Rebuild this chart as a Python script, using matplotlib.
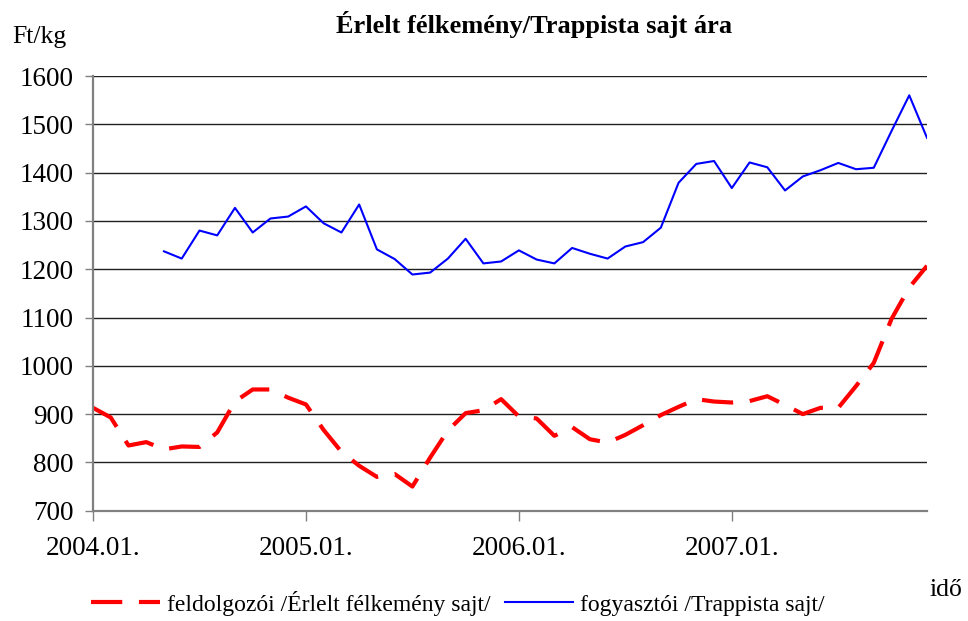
import numpy as np
import matplotlib
matplotlib.use("Agg")
from matplotlib import pyplot as plt

plt.rcParams['font.family'] = ['Liberation Serif', 'DejaVu Serif']

# monthly data, 2004.01 - 2007.12
months = np.arange(48)
tick_pos = [0, 12, 24, 36]
tick_labels = ["2004.01.", "2005.01.", "2006.01.", "2007.01."]

feldolgozoi = [913, 893, 835, 842, 827, 833, 832, 862, 926, 951, 951, 934,
               920, 867, 822, 793, 770, 776, 750, 810, 866, 902, 908, 931,
               895, 891, 855, 873, 848, 841, 857, 877, 898, 915, 931, 926,
               924, 927, 937, 919, 900, 913, 913, 958, 1006, 1097, 1162, 1207]

fogyasztoi = [np.nan, np.nan, np.nan, np.nan,
              1237, 1222, 1280, 1270, 1327, 1276, 1305, 1309,
              1330, 1295, 1276, 1334, 1241, 1221, 1189, 1193, 1222, 1263, 1212, 1216,
              1239, 1220, 1212, 1244, 1232, 1222, 1247, 1256, 1286, 1379, 1418, 1424,
              1368, 1421, 1411, 1363, 1392, 1405, 1420, 1407, 1410, 1486, 1560, 1472]

fig = plt.figure(figsize=(9.68, 6.21), dpi=100)
ax = fig.add_axes([93 / 968, 1 - 510.7 / 621, (927 - 93) / 968, (510.7 - 76) / 621])

ax.plot(months, feldolgozoi, color="#ff0000", lw=3, linestyle=(0, (7.5, 4)),
        label="feldolgozói /Érlelt félkemény sajt/")
ax.plot(months, fogyasztoi, color="#0000ff", lw=1.5,
        label="fogyasztói /Trappista sajt/")

ax.set_xlim(0, 47)
ax.set_ylim(700, 1600)
ax.set_yticks(np.arange(700, 1601, 100))
ax.set_xticks(tick_pos)
ax.set_xticklabels(tick_labels)
ax.yaxis.grid(True, color="#202020", lw=1)
ax.set_axisbelow(True)

for s in ["top", "right"]:
    ax.spines[s].set_visible(False)
for s in ["left", "bottom"]:
    ax.spines[s].set_color("#808080")
    ax.spines[s].set_linewidth(1.6)

ax.tick_params(axis="y", length=6, width=1, color="#808080", labelsize=19.5, pad=8)
ax.tick_params(axis="x", length=7, width=1, color="#808080", labelsize=19.5, pad=11)

fig.text(534 / 968, 1 - 25 / 621, "Érlelt félkemény/Trappista sajt ára",
         ha="center", va="center", fontsize=19, fontweight="bold")
fig.text(12 / 968, 1 - 37 / 621, "Ft/kg", ha="left", va="center", fontsize=18.5)
fig.text(930 / 968, 1 - 590 / 621, "idő", ha="left", va="center", fontsize=18.5)

fig.legend(loc="center", bbox_to_anchor=(458 / 968, 1 - 603 / 621), ncol=2,
           frameon=False, fontsize=17, handlelength=2.9, handletextpad=0.3,
           columnspacing=0.6, borderpad=0, borderaxespad=0)

fig.savefig("out.png", dpi=100)
